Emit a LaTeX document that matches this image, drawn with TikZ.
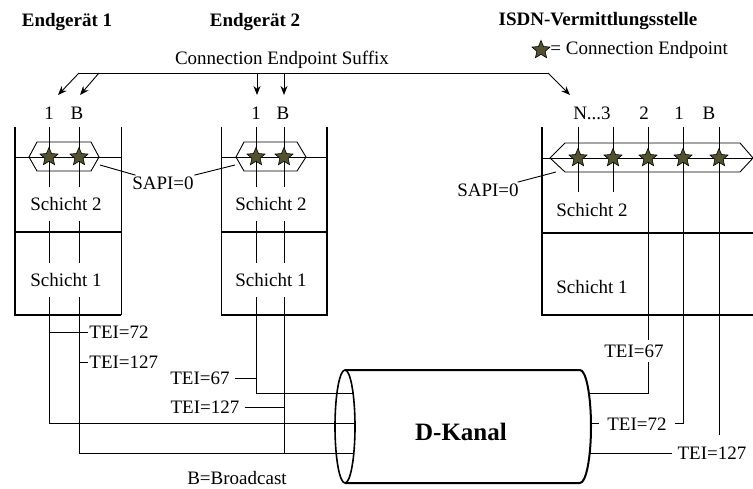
\documentclass[tikz,border=0pt]{standalone}
\usepackage{fontspec}
\setmainfont{Liberation Serif}
\usetikzlibrary{shapes.geometric,arrows.meta}
\definecolor{starolive}{RGB}{82,82,46}
\tikzset{
  lbl/.style={font=\fontsize{19}{21}\selectfont,inner sep=1pt},
  ttl/.style={font=\fontsize{19}{21}\selectfont\bfseries},
  layer/.style={lbl,fill=white,inner xsep=2pt,inner ysep=10pt},
  tei/.style={lbl,inner xsep=5pt},
  cut/.style={lbl,fill=white,inner xsep=8pt,inner ysep=5pt},
  sapi/.style={lbl,inner xsep=6pt},
  cep/.style={star,star points=5,star point ratio=2.2,minimum size=19pt,inner sep=0pt,draw=black,line width=0.6pt,fill=starolive},
  wall/.style={line width=2pt},
}
\begin{document}
\begin{tikzpicture}[x=1pt,y=-1pt,line width=0.9pt,>={Stealth[length=9pt,width=7pt]}]
\useasboundingbox (0,0) rectangle (753,489);
% titles and legend
\node[ttl] (eg1) at (67,22) {Endgerät 1};
\node[ttl] (eg2) at (255,22) {Endgerät 2};
\node[ttl] (vst) at (598,21) {ISDN-Vermittlungsstelle};
\node[cep] (legstar) at (541,50) {};
\node[lbl,anchor=west] (legtxt) at (549,50) {= Connection Endpoint};
% connection endpoint suffix
\node[lbl] (suffix) at (282,60) {Connection Endpoint Suffix};
\coordinate (sfxL) at (79,73);
\coordinate (sfxM) at (99,73);
\coordinate (sfx1) at (257,73);
\coordinate (sfx2) at (284,73);
\coordinate (sfxR) at (548,73);
\coordinate (tip1) at (58,95);
\coordinate (tip2) at (80,95);
\coordinate (tip3) at (257,95);
\coordinate (tip4) at (284,95);
\coordinate (tip5) at (570,95);
\draw (sfxL) -- (sfxR);
\draw[->] (sfxL) -- (tip1);
\draw[->] (sfxM) -- (tip2);
\draw[->] (sfx1) -- (tip3);
\draw[->] (sfx2) -- (tip4);
\draw[->] (sfxR) -- (tip5);
\node[lbl] (e1c1) at (49,113) {1};
\node[lbl] (e1cB) at (77,113) {B};
\node[lbl] (e2c1) at (256,113) {1};
\node[lbl] (e2cB) at (283,113) {B};
\node[lbl] (vcN) at (592,113) {N...3};
\node[lbl] (vc2) at (644,113) {2};
\node[lbl] (vc1) at (679,113) {1};
\node[lbl] (vcB) at (709,113) {B};
% D-Kanal
\coordinate (cylL) at (345,426.5);
\draw[wall] (345,370) -- (580,370) arc[start angle=90,end angle=-90,x radius=11pt,y radius=56.5pt] -- (345,483);
\draw[line width=1.6pt] (cylL) ellipse [x radius=10pt,y radius=56.5pt];
\node[font=\fontsize{25}{28}\selectfont\bfseries] (dk) at (461,432) {D-Kanal};
\coordinate (inA) at (353,393);
\coordinate (inB) at (355,423);
\coordinate (inC) at (354,453);
\coordinate (outA) at (589,393);
\coordinate (outB) at (591,423);
\coordinate (outC) at (590,453);
% Endgeraet 1
\draw[wall] (15,127) -- (15,315) -- (121,315);
\draw (121,127) -- (121,315);
\draw[wall] (15,232) -- (121,232);
\draw (15,157) -- (121,157);
\draw (29,157) -- (37,142) -- (91,142) -- (99,157) -- (91,171) -- (37,171) -- cycle;
\draw (49,127) -- (49,423) -- (inB);
\draw (79,127) -- (79,453) -- (inC);
\node[lbl,anchor=west] (tei72a) at (88,332) {TEI=72};
\node[lbl,anchor=west] (tei127a) at (88,362) {TEI=127};
\coordinate (w72a) at (49,332);
\coordinate (w127a) at (79,362);
\draw (w72a) -- (tei72a.west);
\draw (w127a) -- (tei127a.west);
\node[layer] (s2a) at (66,204) {Schicht 2};
\node[layer] (s1a) at (66,280) {Schicht 1};
\node[cep] (e1s1) at (49,157) {};
\node[cep] (e1sB) at (79,157) {};
% Endgeraet 2
\draw (221,127) -- (221,315);
\draw[wall] (327,127) -- (327,315) -- (221,315);
\draw[wall] (221,232) -- (327,232);
\draw (221,157) -- (327,157);
\draw (236,157) -- (244,142) -- (297,142) -- (306,157) -- (297,171) -- (244,171) -- cycle;
\draw (256,127) -- (256,393) -- (inA);
\draw (284,127) -- (284,453);
\node[tei] (tei67b) at (200,378) {TEI=67};
\node[tei] (tei127b) at (205,407) {TEI=127};
\coordinate (w67b) at (256,378);
\coordinate (w127b) at (284,407);
\draw (tei67b) -- (w67b);
\draw (tei127b) -- (w127b);
\node[layer] (s2b) at (271,204) {Schicht 2};
\node[layer] (s1b) at (271,280) {Schicht 1};
\node[cep] (e2s1) at (256,157) {};
\node[cep] (e2sB) at (284,157) {};
% SAPI
\node[sapi] (sapi1) at (163,183) {SAPI=0};
\coordinate (hx1) at (100,165);
\coordinate (hx2) at (235,165);
\draw (hx1) -- (sapi1);
\draw (sapi1) -- (hx2);
% Vermittlungsstelle
\draw[wall] (542,127) -- (542,315) -- (753,315);
\draw[wall] (542,233) -- (753,233);
\draw (542,158) -- (753,158);
\draw (550,158) -- (565,143) -- (740,143) -- (753,158) -- (740,172) -- (565,172) -- cycle;
\draw (578,127) -- (578,192);
\draw (613,127) -- (613,192);
\draw (648,127) -- (648,393) -- (outA);
\draw (683,127) -- (683,423) -- (outB);
\coordinate (w127c) at (719,435);
\draw (719,127) -- (w127c);
\node[cut] (tei67c) at (634,351) {TEI=67};
\node[cut] (tei72c) at (637,424) {TEI=72};
\node[tei] (tei127c) at (712,453) {TEI=127};
\draw (outC) -- (tei127c);
\node[lbl] (s2c) at (592,210) {Schicht 2};
\node[lbl] (s1c) at (592,287) {Schicht 1};
\node[cep] (vsN) at (578,158) {};
\node[cep] (vs3) at (613,158) {};
\node[cep] (vs2) at (648,158) {};
\node[cep] (vs1) at (683,158) {};
\node[cep] (vsB) at (719,158) {};
\node[sapi] (sapi2) at (488,190) {SAPI=0};
\coordinate (hx3) at (556,172);
\draw (sapi2) -- (hx3);
\node[lbl] (bcast) at (237,478) {B=Broadcast};
\end{tikzpicture}
\end{document}
